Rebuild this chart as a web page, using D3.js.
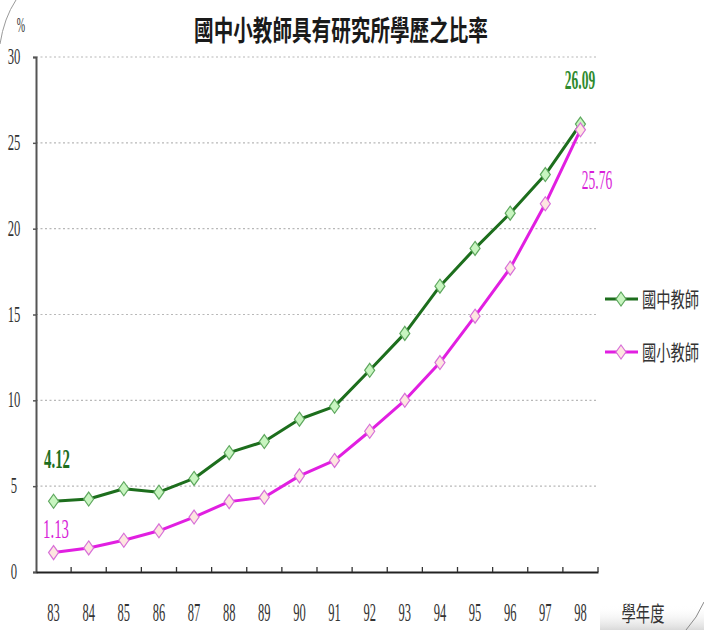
<!DOCTYPE html>
<html><head><meta charset="utf-8">
<script src="https://cdn.jsdelivr.net/npm/d3@7"></script>
<style>html,body{margin:0;padding:0;background:#fff;}svg{display:block;}</style>
</head><body>
<svg id="c" width="704" height="630"></svg>
<script>
const years = ["83","84","85","86","87","88","89","90","91","92","93","94","95","96","97","98"];
const juniorHigh = [4.12,4.25,4.85,4.65,5.45,6.95,7.6,8.9,9.65,11.75,13.9,16.65,18.85,20.9,23.15,26.09];
const elementary = [1.13,1.4,1.85,2.4,3.2,4.1,4.35,5.6,6.5,8.2,10.0,12.2,14.9,17.7,21.45,25.76];
const yTicks = [0,5,10,15,20,25,30];
const seriesNames = ["國中教師","國小教師"];
const titleText = "國中小教師具有研究所學歷之比率";

const svg = d3.select("#c");
const L = 36, R = 598, T = 57, B = 572;
const x = d3.scaleBand().domain(years).range([L, R]).paddingInner(0).paddingOuter(0);
const cx = d => x(d) + x.bandwidth()/2;
const y = d3.scaleLinear().domain([0,30]).range([B, T]);

function ctext(px, py, str, o) {
  const g = svg.append("g").attr("transform", `translate(${px},${py}) scale(${o.sx},1)`);
  return g.append("text").attr("x",0).attr("y",0)
    .attr("text-anchor", o.anchor || "middle")
    .attr("font-family", o.family || "'Liberation Serif', serif")
    .attr("font-size", o.size).attr("font-weight", o.weight || "normal")
    .attr("fill", o.fill || "#222").text(str);
}

svg.append("path").attr("d","M0,44 Q4,18 16,0").attr("fill","none").attr("stroke","#9a9a9a").attr("stroke-width",1);
const grad = svg.append("defs").append("linearGradient").attr("id","sh").attr("x1",0).attr("y1",0).attr("x2",0).attr("y2",1);
grad.append("stop").attr("offset","0").attr("stop-color","#fff").attr("stop-opacity",0);
grad.append("stop").attr("offset","1").attr("stop-color","#d0d0d0").attr("stop-opacity",0.8);
svg.append("rect").attr("x",600).attr("y",605).attr("width",104).attr("height",25).attr("fill","url(#sh)");
svg.append("path").attr("d","M686,630 Q697,618 704,602").attr("fill","none").attr("stroke","#8a8a8a").attr("stroke-width",1);

svg.append("g").selectAll("line").data(yTicks.filter(v=>v>0)).join("line")
  .attr("x1",L).attr("x2",R).attr("y1",d=>y(d)).attr("y2",d=>y(d))
  .attr("stroke","#b8b8b8").attr("stroke-width",1.2).attr("stroke-dasharray","2,2.5");

const yAxis = d3.axisLeft(y).tickValues(yTicks).tickSize(3).tickFormat("");
const ya = svg.append("g").attr("transform",`translate(${L},0)`).call(yAxis);
ya.select(".domain").attr("stroke","#555").attr("stroke-width",2);
ya.selectAll(".tick line").attr("stroke","#555").attr("stroke-width",1.5);
yTicks.forEach(v => ctext(14, y(v)+7, String(v), {size:23, sx:0.55, fill:"#333"}));

const xa = svg.append("g").attr("transform",`translate(0,${B})`)
  .call(d3.axisBottom(x).tickSize(0).tickFormat(""));
xa.select(".domain").attr("stroke","#222").attr("stroke-width",2);
const bounds = years.map(d => x(d)).concat([R]).slice(1);
svg.append("g").selectAll("line").data(bounds).join("line")
  .attr("x1",d=>d).attr("x2",d=>d).attr("y1",B).attr("y2",B-5)
  .attr("stroke","#333").attr("stroke-width",1.3);
years.forEach(d => ctext(cx(d), 621, d, {size:25, sx:0.5, fill:"#333"}));

const line = d3.line().x((v,i)=>cx(years[i])).y(v=>y(v));
const series = [
  {vals: juniorHigh, stroke:"#1d6e1d", fill:"#c8f5c0", mstroke:"#5fa85f"},
  {vals: elementary, stroke:"#e11fe1", fill:"#fde6e0", mstroke:"#d870d8"}
];
series.forEach(s => {
  svg.append("path").datum(s.vals).attr("d",line).attr("fill","none")
    .attr("stroke",s.stroke).attr("stroke-width",3).attr("stroke-linejoin","round");
});
const diamond = "M0,-7 L5,0 L0,7 L-5,0 Z";
series.forEach(s => {
  svg.append("g").selectAll("path").data(s.vals).join("path")
    .attr("transform",(v,i)=>`translate(${cx(years[i])},${y(v)})`)
    .attr("d",diamond).attr("fill",s.fill).attr("stroke",s.mstroke).attr("stroke-width",1.2);
});

ctext(57, 468, "4.12", {size:27, sx:0.55, fill:"#1d6e1d", weight:"bold"});
ctext(56, 538, "1.13", {size:27, sx:0.55, fill:"#d81fd8"});
ctext(580, 89, "26.09", {size:27, sx:0.5, fill:"#2e8a2e", weight:"bold"});
ctext(597, 189, "25.76", {size:27, sx:0.5, fill:"#d81fd8"});

ctext(341, 41, titleText, {size:28, sx:0.7, family:"'Noto Sans CJK TC', sans-serif", weight:"bold", fill:"#1a1a1a"});
ctext(21, 32, "%", {size:20, sx:0.5, fill:"#333"});
ctext(643, 621, "學年度", {size:21, sx:0.68, family:"'Noto Sans CJK TC', sans-serif", fill:"#333"});

const leg = [{y:299, s:series[0], name:seriesNames[0]}, {y:352, s:series[1], name:seriesNames[1]}];
leg.forEach(l => {
  svg.append("line").attr("x1",605).attr("x2",638).attr("y1",l.y).attr("y2",l.y)
    .attr("stroke",l.s.stroke).attr("stroke-width",3);
  svg.append("path").attr("transform",`translate(621,${l.y})`).attr("d",diamond)
    .attr("fill",l.s.fill).attr("stroke",l.s.mstroke).attr("stroke-width",1.2);
  ctext(642, l.y+8, l.name, {size:21, sx:0.68, anchor:"start", family:"'Noto Sans CJK TC', sans-serif", fill:"#333"});
});
</script>
</body></html>
